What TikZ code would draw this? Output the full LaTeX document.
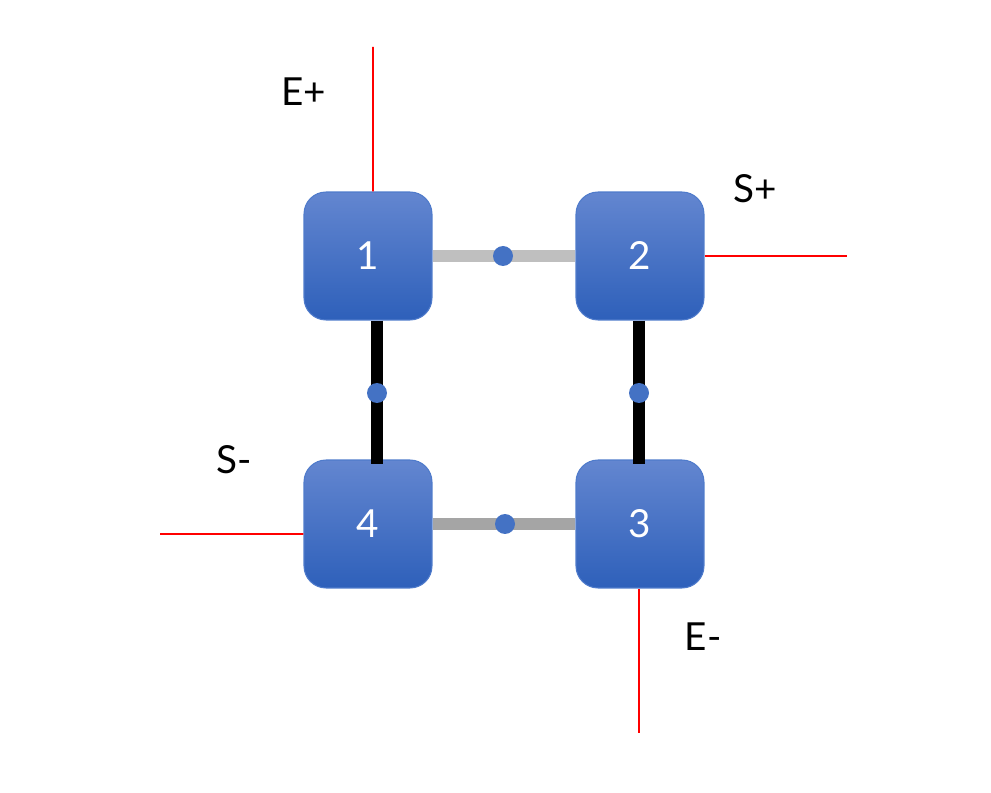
\documentclass[tikz,border=0pt]{standalone}
\usepackage{fontspec}
\setmainfont{Lato}
\definecolor{boxtop}{HTML}{6386D0}
\definecolor{boxbot}{HTML}{2E60BA}
\definecolor{boxedge}{HTML}{4F7BCB}
\definecolor{dotblue}{HTML}{4472C4}
\definecolor{barlight}{HTML}{BFBFBF}
\definecolor{bardark}{HTML}{A5A5A5}
\definecolor{wire}{HTML}{FF0000}

\tikzset{
  cell/.style={draw=boxedge, line width=0.6pt, rounded corners=0.44cm,
    top color=boxtop, bottom color=boxbot, minimum size=2.56cm,
    text=white, font=\fontsize{22}{26}\selectfont, inner sep=0pt},
  bar/.style={line width=0.24cm},
  joint/.style={circle, fill=dotblue, minimum size=0.4cm, inner sep=0pt},
  lead/.style={wire, line width=0.9pt},
  tag/.style={font=\fontsize{22}{26}\selectfont}
}

\begin{document}
\begin{tikzpicture}[x=0.02cm, y=-0.02cm]
        \useasboundingbox (0,0) rectangle (991,793);

        \node[cell] (b1) at (368,256) {1};
        \node[cell] (b2) at (640,256) {2};
        \node[cell] (b3) at (640,524) {3};
        \node[cell] (b4) at (368,524) {4};

        % leads
        \coordinate (ep) at (373,47);
        \coordinate (sp) at (847,256);
        \coordinate (sm) at (160,534);
        \coordinate (em) at (639,733);
        \draw[lead] ([xshift=0.1cm]b1.north) -- (ep);
        \draw[lead] (b2.east) -- (sp);
        \draw[lead] ([yshift=-0.2cm]b4.west) -- (sm);
        \draw[lead] ([xshift=-0.02cm]b3.south) -- (em);
        \node[tag] (lep) at (304,92) {E+};
        \node[tag] (lsp) at (755,189) {S+};
        \node[tag] (lsm) at (234,460) {S-};
        \node[tag] (lem) at (703,637) {E-};

        % bars
        \draw[bar, barlight] (b1.east) -- (b2.west);
        \draw[bar, bardark] (b4.east) -- (b3.west);
        \draw[bar, black] ([xshift=0.18cm]b1.south) -- ([xshift=0.18cm,yshift=-0.1cm]b4.north);
        \draw[bar, black] ([xshift=-0.02cm]b2.south) -- ([xshift=-0.02cm,yshift=-0.1cm]b3.north);

        \node[joint] (j12) at (503,256) {};
        \node[joint] (j43) at (505,524) {};
        \node[joint] (j14) at (377,393) {};
        \node[joint] (j23) at (639,393) {};
      \end{tikzpicture}
\end{document}
